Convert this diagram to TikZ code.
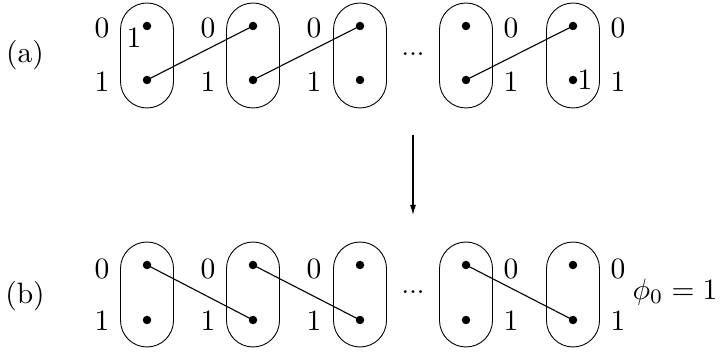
\documentclass[tikz,border=0pt]{standalone}
\usetikzlibrary{arrows.meta}
\newcommand{\bigtxt}[1]{\scalebox{2.95}{#1}}
\begin{document}
\begin{tikzpicture}[x=1pt,y=-1pt,
  oval/.style={draw,line width=0.9pt,minimum width=53pt,minimum height=105pt,rounded corners=26.5pt,inner sep=0pt},
  dot/.style={circle,fill,inner sep=0pt,minimum size=8.5pt},
  lbl/.style={inner sep=0pt},
  link/.style={line width=1.1pt},
  arr/.style={line width=1.1pt,-{Latex[length=10pt,width=6pt]}}]
\useasboundingbox (0,0) rectangle (720,352);
% ovals, dots
\foreach \n/\x in {1/147,2/253,3/360,4/466,5/573}{
  \node[oval] (oa\n) at (\x,55.5) {};
  \node[dot] (a\n t) at (\x,26) {};
  \node[dot] (a\n b) at (\x,80) {};
  \node[oval] (ob\n) at (\x,294.5) {};
  \node[dot] (b\n t) at (\x,265) {};
  \node[dot] (b\n b) at (\x,320) {};
}
% left labels for ovals 1-3
\foreach \n/\x in {1/102,2/208,3/314}{
  \node[lbl] (la\n z) at (\x,28.5) {\bigtxt{0}};
  \node[lbl] (la\n o) at (\x,82) {\bigtxt{1}};
  \node[lbl] (lb\n z) at (\x,269) {\bigtxt{0}};
  \node[lbl] (lb\n o) at (\x,321) {\bigtxt{1}};
}
% right labels for ovals 4-5
\foreach \n/\x in {4/511,5/618}{
  \node[lbl] (la\n z) at (\x,28.5) {\bigtxt{0}};
  \node[lbl] (la\n o) at (\x,82) {\bigtxt{1}};
  \node[lbl] (lb\n z) at (\x,269) {\bigtxt{0}};
  \node[lbl] (lb\n o) at (\x,321) {\bigtxt{1}};
}
% inner labels
\node[lbl] (in1) at (134,38) {\bigtxt{1}};
\node[lbl] (in5) at (585,80) {\bigtxt{1}};
% ellipses
\node[lbl] (ea) at (413,54) {\scalebox{2.7}{...}};
\node[lbl] (eb) at (413,292) {\scalebox{2.7}{...}};
% part labels
\node[lbl] (pa) at (25,55.5) {\bigtxt{(a)}};
\node[lbl] (pb) at (25,296) {\bigtxt{(b)}};
\node[lbl] (phi) at (675,292) {\bigtxt{$\phi_0=1$}};
% links
\draw[link] (a1b.center) -- (a2t.center);
\draw[link] (a2b.center) -- (a3t.center);
\draw[link] (a4b.center) -- (a5t.center);
\draw[link] (b1t.center) -- (b2b.center);
\draw[link] (b2t.center) -- (b3b.center);
\draw[link] (b4t.center) -- (b5b.center);
% arrow
\coordinate (s) at (413,135);
\coordinate (e) at (413,215);
\draw[arr] (s) -- (e);
\end{tikzpicture}
\end{document}
